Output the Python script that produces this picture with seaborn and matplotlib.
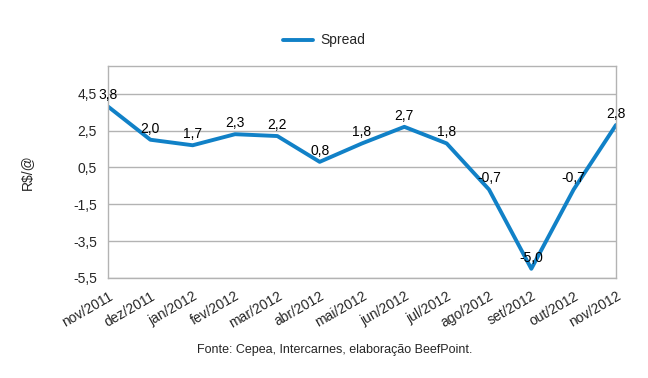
import matplotlib
matplotlib.use("Agg")
import matplotlib.pyplot as plt
import numpy as np
import pandas as pd
import seaborn as sns

MONTHS = ["nov/2011", "dez/2011", "jan/2012", "fev/2012", "mar/2012", "abr/2012", "mai/2012",
          "jun/2012", "jul/2012", "ago/2012", "set/2012", "out/2012", "nov/2012"]
SPREAD = [3.8, 2.0, 1.7, 2.3, 2.2, 0.8, 1.8, 2.7, 1.8, -0.7, -5.0, -0.7, 2.8]
Y_TICKS = [-5.5, -3.5, -1.5, 0.5, 2.5, 4.5]

LINE_COLOR = "#1181c7"
GRID_COLOR = "#b3b3b3"

sns.set_theme(style="white")
plt.rcParams["font.family"] = ["Liberation Sans", "DejaVu Sans"]

df = pd.DataFrame({"idx": np.arange(len(MONTHS)), "month": MONTHS, "spread": SPREAD})

fig = plt.figure(figsize=(6.48, 3.78), dpi=100)
ax = fig.add_axes([0.1667, 0.2646, 0.7839, 0.5608])

sns.lineplot(data=df, x="idx", y="spread", ax=ax, color=LINE_COLOR, linewidth=2.8,
             label="Spread", legend=False)

for i, v in zip(df["idx"], df["spread"]):
    ax.annotate(f"{v:.1f}".replace(".", ","), (i, v), xytext=(0, 3), textcoords="offset points",
                ha="center", va="bottom", fontsize=10, color="black")

ax.set_xlim(0, len(MONTHS) - 1)
ax.set_ylim(-5.5, 6.0)
ax.set_yticks(Y_TICKS)
ax.set_yticklabels([f"{t:.1f}".replace(".", ",") for t in Y_TICKS], fontsize=10)
ax.set_xticks(df["idx"])
ax.set_xticklabels(MONTHS, rotation=30, ha="right", rotation_mode="anchor", fontsize=10)
ax.tick_params(axis="both", length=5, width=1, color=GRID_COLOR, direction="out", pad=3)
ax.yaxis.grid(True, color=GRID_COLOR, linewidth=1)
ax.set_xlabel("")
ax.set_ylabel("R$/@", fontsize=10, labelpad=28)
for sp in ax.spines.values():
    sp.set_color(GRID_COLOR)
    sp.set_linewidth(1)

handle = plt.Line2D([], [], color=LINE_COLOR, linewidth=2.8)
fig.legend([handle], ["Spread"], loc="center", bbox_to_anchor=(0.5, 0.893), frameon=False,
           fontsize=10, handlelength=2.2, handletextpad=0.5)

fig.text(0.517, 0.073, "Fonte: Cepea, Intercarnes, elaboração BeefPoint.", ha="center",
         va="center", fontsize=9)

plt.savefig("out.png", dpi=100)
plt.close()
